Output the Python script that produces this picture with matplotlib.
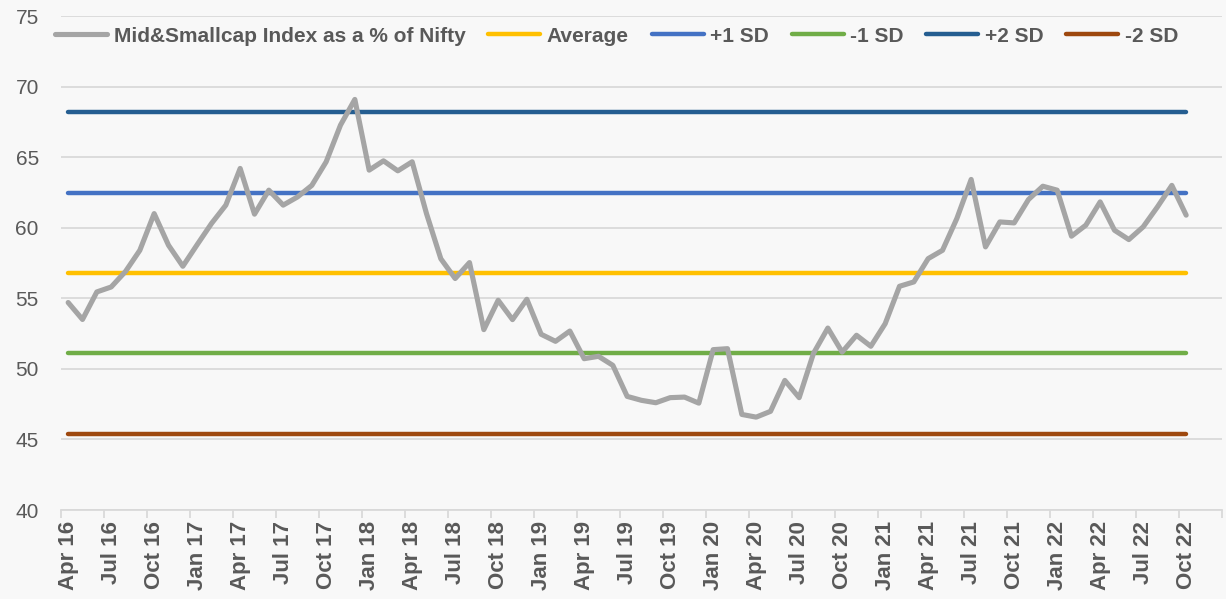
import matplotlib
matplotlib.use("Agg")
import matplotlib.pyplot as plt
import numpy as np

plt.rcParams['font.family'] = ['Liberation Sans', 'DejaVu Sans']

months = ['Jan', 'Feb', 'Mar', 'Apr', 'May', 'Jun', 'Jul', 'Aug', 'Sep', 'Oct', 'Nov', 'Dec']
# Monthly categories Apr 16 .. Dec 22 (data through Oct 22)
categories = []
for k in range(81):
    m = (3 + k) % 12
    y = 16 + (3 + k) // 12
    categories.append(f"{months[m]} {y}")

ratio = [54.7, 53.5, 55.45, 55.8, 56.9, 58.4, 61.0, 58.76, 57.27, 58.8, 60.3, 61.6, 64.2,
         60.96, 62.66, 61.6, 62.18, 63.0, 64.67, 67.27, 69.09, 64.08, 64.74, 64.03, 64.67,
         61.0, 57.8, 56.4, 57.53, 52.78, 54.86, 53.49, 54.93, 52.45, 51.95, 52.68, 50.72,
         50.89, 50.25, 48.05, 47.77, 47.6, 47.96, 48.0, 47.57, 51.36, 51.43, 46.77, 46.58,
         46.99, 49.18, 47.96, 51.1, 52.89, 51.19, 52.38, 51.6, 53.2, 55.85, 56.16, 57.81,
         58.4, 60.65, 63.42, 58.64, 60.41, 60.34, 62.0, 62.94, 62.66, 59.4, 60.18, 61.83,
         59.82, 59.16, 60.06, 61.48, 63.0, 60.89]
average = 56.8
sd = 5.69

series_names = ['Mid&Smallcap Index as a % of Nifty', 'Average', '+1 SD', '-1 SD', '+2 SD', '-2 SD']
levels = [average, average + sd, average - sd, average + 2 * sd, average - 2 * sd]
colors = ['#A5A5A5', '#FFC000', '#4472C4', '#70AD47', '#255E91', '#9E480E']

n = len(ratio)
x = np.arange(n)

fig = plt.figure(figsize=(12.26, 5.99), dpi=100)
bg = '#F8F8F8'
fig.patch.set_facecolor(bg)
ax = fig.add_axes([61 / 1226, 1 - 510 / 599, (1222 - 61) / 1226, (510 - 16) / 599])
ax.set_facecolor(bg)

handles = []
h, = ax.plot(x, ratio, color=colors[0], lw=3.7, solid_joinstyle='round', zorder=4,
             solid_capstyle='round')
handles.append(h)
for lev, c in zip(levels, colors[1:]):
    h, = ax.plot(x, [lev] * n, color=c, lw=3.2, solid_capstyle='round', zorder=3)
    handles.append(h)

ax.set_xlim(-0.5, len(categories) - 0.5)
ax.set_ylim(40, 75)
ax.set_yticks(np.arange(40, 76, 5))
ax.yaxis.grid(True, color='#D9D9D9', lw=1.3)
ax.set_axisbelow(True)
ax.tick_params(axis='y', length=0, pad=16, labelsize=15, labelcolor='#595959')

lab_idx = list(range(0, n, 3))
ax.set_xticks(lab_idx)
ax.set_xticklabels([categories[i] for i in lab_idx], rotation=90, fontweight='bold')
ax.tick_params(axis='x', which='major', length=0, pad=8, labelsize=16, labelcolor='#595959')
ax.set_xticks(np.arange(-0.5, len(categories), 3), minor=True)
ax.tick_params(axis='x', which='minor', length=6, width=1.3, color='#D9D9D9')

for s in ['left', 'right', 'top']:
    ax.spines[s].set_visible(False)
ax.spines['bottom'].set_color('#D9D9D9')
ax.spines['bottom'].set_linewidth(1.3)

leg = fig.legend(handles, series_names, loc='center', bbox_to_anchor=(0.503, 1 - 36 / 599),
                 ncol=6, frameon=False, handlelength=2.5, columnspacing=1.1, handletextpad=0.3,
                 prop={'weight': 'bold', 'size': 15})
for t in leg.get_texts():
    t.set_color('#595959')
for lh in leg.legend_handles:
    lh.set_solid_capstyle('round')

fig.savefig('out.png', dpi=100, facecolor=bg)
